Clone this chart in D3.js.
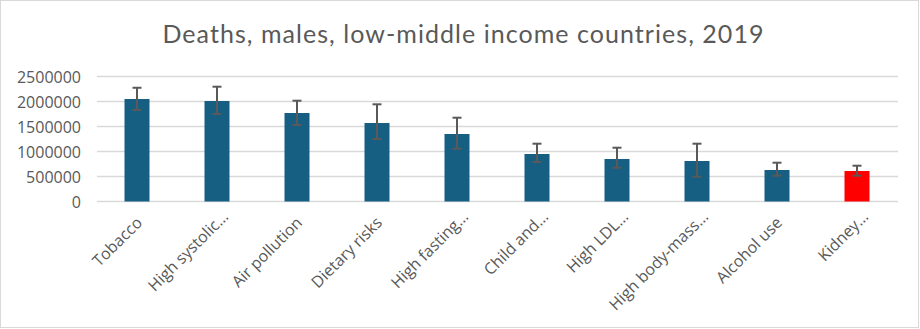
<!DOCTYPE html>
<html><head><meta charset="utf-8">
<script src="https://cdn.jsdelivr.net/npm/d3@7"></script>
<style>body{margin:0;background:#fff}svg{display:block}</style>
</head><body>
<svg id="c" width="920" height="329"></svg>
<script>
const categories = ["Tobacco","High systolic…","Air pollution","Dietary risks","High fasting…","Child and…","High LDL…","High body-mass…","Alcohol use","Kidney…"];
const deaths = [2050000,2010000,1770000,1570000,1350000,950000,850000,810000,630000,610000];
const upper  = [2275000,2296000,2016000,1944000,1676000,1156000,1076000,1156000,776000,716000];
const lower  = [1830000,1750000,1530000,1250000,1056000,790000,676000,496000,516000,516000];
const highlight = [false,false,false,false,false,false,false,false,false,true];
const yTicks = [0,500000,1000000,1500000,2000000,2500000];
const title = "Deaths, males, low-middle income countries, 2019";

const svg = d3.select("#c");
svg.append("rect").attr("x",0.5).attr("y",0.5).attr("width",918).attr("height",327)
  .attr("fill","#fff").attr("stroke","#d9d9d9").attr("stroke-width",1);

const x = d3.scaleBand().domain(categories).range([97,897]).paddingInner(0.6875).paddingOuter(0.34375);
const y = d3.scaleLinear().domain([0,2500000]).range([201.5,76.5]);

svg.append("g").selectAll("line").data(yTicks).join("line")
  .attr("x1",97).attr("x2",898).attr("y1",d=>y(d)).attr("y2",d=>y(d))
  .attr("stroke","#d9d9d9").attr("stroke-width",1.6);

const yAxis = d3.axisLeft(y).tickValues(yTicks).tickFormat(d3.format("d")).tickSize(0).tickPadding(0);
const ya = svg.append("g").attr("transform","translate(81,0)").call(yAxis);
ya.select(".domain").remove();
ya.selectAll("text").attr("font-family","Open Sans").attr("font-size",16).attr("fill","#595959").attr("dy","0.35em");

svg.append("g").selectAll("rect").data(categories).join("rect")
  .attr("x",d=>x(d)).attr("width",x.bandwidth())
  .attr("y",(d,i)=>y(deaths[i])).attr("height",(d,i)=>y(0)-y(deaths[i]))
  .attr("fill",(d,i)=>highlight[i]?"#ff0000":"#175f82");

const eb = svg.append("g").attr("stroke","#595959").attr("stroke-width",2);
categories.forEach((c,i)=>{
  const cx = x(c)+x.bandwidth()/2;
  eb.append("line").attr("x1",cx).attr("x2",cx).attr("y1",y(upper[i])).attr("y2",y(lower[i]));
  eb.append("line").attr("x1",cx-4.5).attr("x2",cx+4.5).attr("y1",y(upper[i])).attr("y2",y(upper[i]));
  eb.append("line").attr("x1",cx-4.5).attr("x2",cx+4.5).attr("y1",y(lower[i])).attr("y2",y(lower[i]));
});

const xAxis = d3.axisBottom(x).tickSize(0).tickPadding(0);
const xa = svg.append("g").attr("transform","translate(0,212)").call(xAxis);
xa.select(".domain").remove();
xa.selectAll("text").attr("font-family","Open Sans").attr("font-size",16).attr("fill","#595959")
  .attr("text-anchor","end").attr("x",0).attr("y",0).attr("dy",0)
  .attr("dx",d=>d.endsWith("…")?8.5:0)
  .attr("transform","translate(6.2,11.7) rotate(-45)");

const t = svg.append("text").attr("x",463.5).attr("y",43.3).attr("text-anchor","middle")
  .attr("font-family","Lato").attr("font-size",25).attr("fill","#595959").text(title);
const w = t.node().getComputedTextLength();
t.attr("letter-spacing", (601-w)/(title.length-1));
</script>
</body></html>
